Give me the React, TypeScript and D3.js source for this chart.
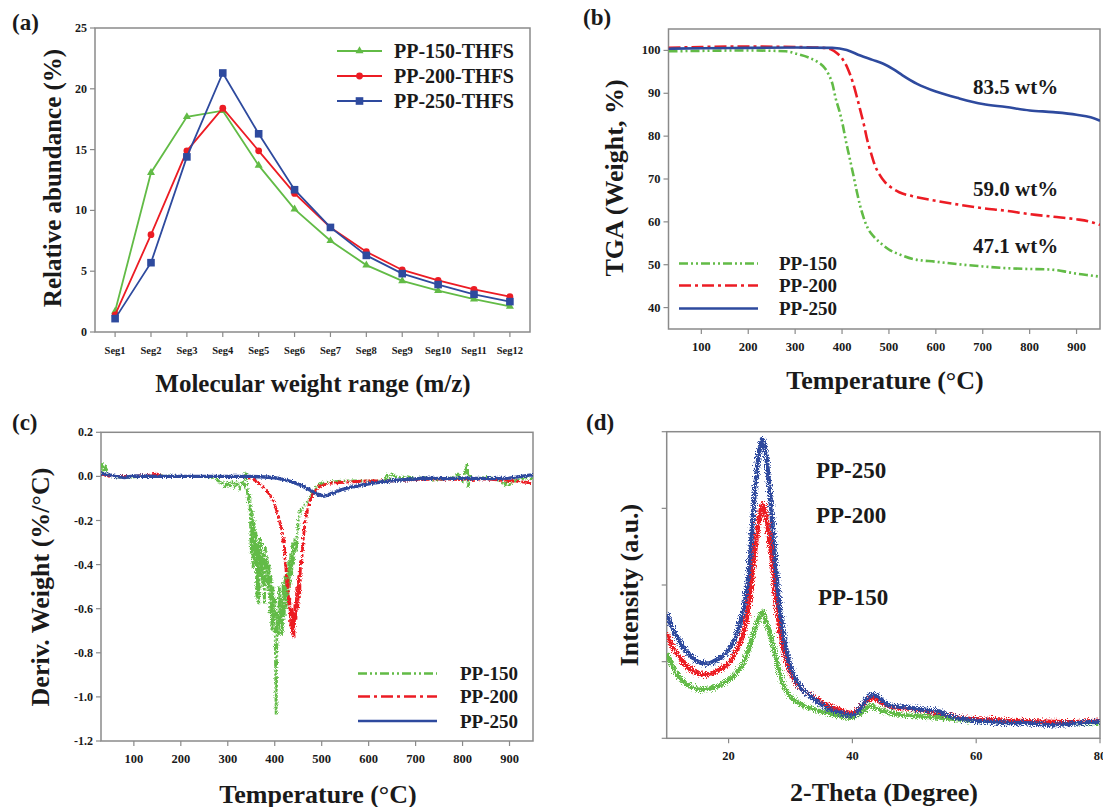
import React from 'react';
import * as d3 from 'd3';

const W = 1103;
const H = 807;
const FONT = '"Liberation Serif", "Times New Roman", serif';
const GREEN = '#62bb46';
const RED = '#ec1c24';
const BLUE = '#2e4a9e';
const FRAME = '#8a8a8a';
const INK = '#1a1a1a';

type Pt = [number, number];

// (a) relative abundance per molecular weight segment
const SEGMENTS = ['Seg1', 'Seg2', 'Seg3', 'Seg4', 'Seg5', 'Seg6', 'Seg7', 'Seg8', 'Seg9', 'Seg10', 'Seg11', 'Seg12'];
const ABUND_150 = [1.7, 13.1, 17.7, 18.2, 13.7, 10.1, 7.5, 5.5, 4.2, 3.4, 2.7, 2.1];
const ABUND_200 = [1.4, 8.0, 14.9, 18.4, 14.9, 11.4, 8.6, 6.6, 5.1, 4.25, 3.5, 2.9];
const ABUND_250 = [1.1, 5.7, 14.4, 21.3, 16.3, 11.7, 8.6, 6.3, 4.8, 3.9, 3.1, 2.5];
const ABUND_TICKS = [0, 5, 10, 15, 20, 25];

// (b) TGA, [temperature, weight %]
const TGA_150: Pt[] = [[30, 99.8], [100, 99.9], [200, 100.0], [280, 99.8], [303, 99.2], [330, 98.3], [348, 97.3], [360, 96.3], [371, 94.5], [380, 92], [386, 89], [394, 86], [401, 82.9], [408, 79], [416, 75], [424, 71], [431, 67.3], [438, 64], [446, 61], [455, 58.5], [469, 56.4], [485, 54.8], [499, 53.6], [525, 52.3], [552, 51.3], [600, 50.7], [649, 50.1], [700, 49.6], [750, 49.2], [800, 49.0], [840, 48.9], [860, 48.7], [880, 48.3], [900, 47.9], [930, 47.5], [950, 47.2]];
const TGA_200: Pt[] = [[30, 100.6], [100, 100.8], [200, 100.9], [300, 100.8], [360, 100.6], [375, 100.3], [390, 99.3], [401, 98], [412, 95.8], [424, 92.2], [432, 89], [439, 86], [447, 82.5], [454, 79], [462, 76], [469, 73.5], [480, 71], [492, 69.2], [505, 68], [522, 66.9], [550, 66], [600, 64.9], [650, 64], [700, 63.2], [750, 62.6], [800, 61.8], [850, 61.2], [900, 60.6], [930, 60.0], [950, 59.3]];
const TGA_250: Pt[] = [[30, 100.4], [100, 100.5], [200, 100.6], [300, 100.7], [379, 100.6], [410, 100.1], [439, 98.8], [465, 97.8], [488, 96.9], [510, 95.6], [529, 94.2], [560, 92.2], [600, 90.4], [650, 88.8], [700, 87.5], [750, 86.8], [800, 86.0], [850, 85.6], [900, 85.0], [930, 84.4], [950, 83.6]];
const TGA_TICKS = [40, 50, 60, 70, 80, 90, 100];
const TEMP_TICKS = [100, 200, 300, 400, 500, 600, 700, 800, 900];
const RESIDUES = ['83.5 wt%', '59.0 wt%', '47.1 wt%'];

// (c) DTG, [temperature, %/°C]
const DTG_150: Pt[] = [[30, 0.03], [33, 0.06], [36, 0.02], [40, 0.04], [45, 0.01], [55, 0.0], [80, -0.005], [120, 0.0], [160, 0.002], [200, 0.0], [240, 0.0], [270, -0.005], [280, -0.02], [285, -0.035], [290, -0.03], [295, -0.05], [300, -0.03], [305, -0.04], [310, -0.02], [315, -0.045], [320, -0.03], [325, -0.05], [330, -0.02], [335, -0.04], [338, 0.02], [341, -0.05], [344, -0.12], [347, -0.08], [350, -0.35], [352, -0.15], [354, -0.42], [356, -0.2], [358, -0.4], [360, -0.25], [362, -0.55], [364, -0.3], [366, -0.58], [368, -0.28], [370, -0.45], [372, -0.3], [374, -0.5], [376, -0.35], [378, -0.58], [380, -0.32], [382, -0.48], [384, -0.36], [386, -0.52], [388, -0.4], [390, -0.62], [392, -0.45], [394, -0.7], [396, -0.5], [398, -0.68], [400, -0.55], [402, -0.9], [403, -1.08], [404, -0.85], [406, -0.62], [408, -0.72], [410, -0.5], [412, -0.68], [414, -0.55], [416, -0.72], [418, -0.48], [420, -0.65], [422, -0.45], [424, -0.6], [426, -0.42], [428, -0.58], [430, -0.38], [432, -0.5], [434, -0.35], [436, -0.45], [438, -0.3], [440, -0.4], [443, -0.28], [446, -0.34], [450, -0.2], [454, -0.16], [460, -0.14], [468, -0.12], [475, -0.1], [482, -0.07], [489, -0.047], [500, -0.03], [520, -0.024], [560, -0.02], [600, -0.022], [620, -0.02], [635, -0.02], [640, 0.014], [645, -0.01], [650, 0.01], [660, -0.005], [680, 0.0], [700, -0.01], [720, -0.005], [740, -0.02], [760, -0.01], [780, -0.005], [790, 0.01], [800, -0.02], [805, 0.02], [810, 0.06], [812, -0.05], [815, 0.0], [830, -0.01], [850, -0.005], [870, -0.01], [880, -0.02], [890, -0.04], [895, -0.02], [900, -0.045], [910, -0.02], [930, -0.01], [950, -0.01]];
const DTG_200: Pt[] = [[30, 0.01], [50, 0.0], [100, 0.0], [150, 0.01], [160, 0.0], [250, 0.0], [330, 0.0], [345, -0.005], [355, -0.015], [365, -0.03], [375, -0.045], [385, -0.07], [395, -0.1], [400, -0.13], [405, -0.16], [410, -0.2], [415, -0.24], [418, -0.3], [420, -0.28], [422, -0.38], [424, -0.42], [426, -0.5], [428, -0.46], [430, -0.6], [432, -0.55], [434, -0.68], [436, -0.6], [438, -0.72], [440, -0.62], [441, -0.73], [443, -0.58], [445, -0.65], [447, -0.5], [449, -0.6], [451, -0.45], [453, -0.55], [455, -0.38], [457, -0.4], [460, -0.3], [465, -0.2], [470, -0.15], [475, -0.11], [482, -0.077], [490, -0.055], [500, -0.04], [520, -0.03], [560, -0.025], [600, -0.02], [650, -0.02], [700, -0.015], [750, -0.012], [800, -0.015], [850, -0.012], [900, -0.02], [950, -0.03]];
const DTG_250: Pt[] = [[30, 0.015], [40, 0.01], [60, 0.0], [80, -0.005], [100, 0.002], [150, 0.0], [200, 0.0], [300, 0.0], [350, 0.0], [380, -0.003], [400, -0.006], [420, -0.015], [435, -0.024], [450, -0.035], [465, -0.05], [475, -0.062], [487, -0.077], [496, -0.084], [505, -0.09], [512, -0.085], [525, -0.075], [539, -0.062], [560, -0.05], [580, -0.042], [609, -0.03], [640, -0.022], [667, -0.016], [700, -0.012], [716, -0.008], [760, -0.01], [800, -0.008], [858, -0.01], [900, -0.008], [943, 0.006], [950, 0.006]];
const DTG_TICKS = [0.2, 0.0, -0.2, -0.4, -0.6, -0.8, -1.0, -1.2];

// (d) XRD, [2-theta, intensity a.u.]
const XRD_150: Pt[] = [[10, 1.11], [11, 0.93], [12, 0.8], [13, 0.72], [14, 0.67], [15, 0.65], [16, 0.64], [17, 0.65], [18, 0.67], [19, 0.71], [20, 0.76], [21, 0.83], [22, 0.93], [23, 1.11], [24, 1.37], [25, 1.59], [25.5, 1.65], [26, 1.54], [27, 1.28], [28, 0.93], [29, 0.67], [30, 0.54], [32, 0.43], [34, 0.37], [36, 0.33], [38, 0.29], [40, 0.27], [42, 0.37], [43, 0.43], [44, 0.39], [46, 0.33], [50, 0.29], [54, 0.27], [58, 0.24], [60, 0.23], [65, 0.21], [70, 0.2], [80, 0.2]];
const XRD_200: Pt[] = [[10, 1.37], [11, 1.18], [12, 1.07], [13, 0.96], [14, 0.89], [15, 0.85], [16, 0.83], [17, 0.84], [18, 0.87], [19, 0.92], [20, 0.98], [21, 1.1], [22, 1.28], [23, 1.59], [24, 2.24], [24.5, 2.6], [25, 2.89], [25.5, 3.05], [26, 2.93], [26.5, 2.65], [27, 2.33], [28, 1.59], [29, 1.11], [30, 0.85], [32, 0.63], [34, 0.52], [36, 0.43], [38, 0.37], [40, 0.33], [42, 0.46], [43, 0.52], [44, 0.5], [46, 0.42], [50, 0.38], [54, 0.33], [58, 0.26], [60, 0.25], [65, 0.23], [70, 0.22], [75, 0.21], [80, 0.23]];
const XRD_250: Pt[] = [[10, 1.63], [11, 1.42], [12, 1.28], [13, 1.15], [14, 1.07], [15, 1.0], [16, 0.98], [17, 0.98], [18, 1.02], [19, 1.07], [20, 1.15], [21, 1.3], [22, 1.54], [23, 1.98], [23.5, 2.4], [24, 2.98], [24.5, 3.45], [25, 3.76], [25.5, 3.9], [26, 3.72], [26.5, 3.35], [27, 2.89], [27.5, 2.35], [28, 1.89], [28.5, 1.55], [29, 1.28], [30, 0.93], [31, 0.75], [32, 0.63], [34, 0.5], [36, 0.39], [38, 0.33], [40, 0.3], [41, 0.36], [42, 0.48], [43, 0.57], [44, 0.55], [45, 0.48], [46, 0.43], [48, 0.41], [50, 0.39], [52, 0.37], [54, 0.35], [56, 0.28], [58, 0.25], [60, 0.23], [65, 0.2], [70, 0.19], [72, 0.17], [75, 0.19], [80, 0.22]];
const THETA_TICKS = [20, 40, 60, 80];
const INTENSITY_TICKS = [0, 1, 2, 3, 4];

const SERIES = ['PP-150', 'PP-200', 'PP-250'];
const DASH = ['9,3,2,3,2,3', '12,4,3,4', 'none'];
const DASH_DENSE = ['7,2,2,2,2,2', '10,2,3,2', 'none'];
const COLORS = [GREEN, RED, BLUE];

function Txt(props: any) {
  return <text fontFamily={FONT} fontWeight="bold" fill={INK} {...props} />;
}

function Frame({ x, y }: { x: any; y: any }) {
  const [l, r] = x.range();
  const [b, t] = y.range();
  return <rect x={l} y={t} width={r - l} height={b - t} fill="none" stroke={FRAME} strokeWidth={1.5} />;
}

function XAxis({ x, y, ticks, size, fmt }: any) {
  const y0 = y.range()[0];
  return (
    <g>
      {ticks.map((t: any) => {
        const px = x(t);
        return (
          <g key={String(t)}>
            <line x1={px} x2={px} y1={y0} y2={y0 + 5} stroke={FRAME} strokeWidth={1.2} />
            <Txt x={px} y={y0 + 18} fontSize={size} textAnchor="middle" dominantBaseline="central">{fmt ? fmt(t) : t}</Txt>
          </g>
        );
      })}
    </g>
  );
}

function YAxis({ x, y, ticks, size, fmt, labels = true }: any) {
  const x0 = x.range()[0];
  return (
    <g>
      {ticks.map((t: number) => {
        const py = y(t);
        return (
          <g key={t}>
            <line x1={x0 - 5} x2={x0} y1={py} y2={py} stroke={FRAME} strokeWidth={1.2} />
            {labels && <Txt x={x0 - 8} y={py} fontSize={size} textAnchor="end" dominantBaseline="central">{fmt ? fmt(t) : t}</Txt>}
          </g>
        );
      })}
    </g>
  );
}

function YTitle({ cx, cy, text, size = 26 }: any) {
  return <Txt transform={`translate(${cx},${cy}) rotate(-90)`} fontSize={size} textAnchor="middle" dominantBaseline="central">{text}</Txt>;
}

export default function App() {
  // (a)
  const xA = d3.scalePoint<string>().domain(SEGMENTS).range([95, 530]).padding(0.56);
  const yA = d3.scaleLinear().domain([0, 25]).range([332, 28]);
  const lineA = d3.line<number>().x((_, i) => xA(SEGMENTS[i]) as number).y((d) => yA(d));
  const abund = [ABUND_150, ABUND_200, ABUND_250];
  const symbols = [d3.symbol(d3.symbolTriangle, 28), d3.symbol(d3.symbolCircle, 36), d3.symbol(d3.symbolSquare, 58)];

  // (b)
  const xB = d3.scaleLinear().domain([30, 950]).range([668.5, 1100]);
  const yB = d3.scaleLinear().domain([35, 105]).range([329, 29]);
  const lineB = d3.line<Pt>().x((d) => xB(d[0])).y((d) => yB(d[1])).curve(d3.curveMonotoneX);
  const tga = [TGA_150, TGA_200, TGA_250];

  // (c)
  const xC = d3.scaleLinear().domain([30, 950]).range([101, 533]);
  const yC = d3.scaleLinear().domain([-1.2, 0.2]).range([741, 432.3]);
  const lineC = d3.line<Pt>().x((d) => xC(d[0])).y((d) => yC(d[1]));
  const dtg = [DTG_150, DTG_200, DTG_250];

  // (d)
  const xD = d3.scaleLinear().domain([10, 80]).range([666.7, 1100]);
  const yD = d3.scaleLinear().domain([0, 4]).range([738.3, 431.7]);
  const lineD = d3.line<Pt>().x((d) => xD(d[0])).y((d) => yD(d[1])).curve(d3.curveCatmullRom);
  const xrd = [XRD_150, XRD_200, XRD_250];

  const clip = (id: string, x: any, y: any) => {
    const [l, r] = x.range();
    const [b, t] = y.range();
    return (
      <clipPath id={id}>
        <rect x={l} y={t} width={r - l} height={b - t} />
      </clipPath>
    );
  };

  return (
    <svg width={W} height={H} viewBox={`0 0 ${W} ${H}`} style={{ position: 'absolute', left: 0, top: 0, display: 'block', background: '#fff' }}>
      <defs>
        {clip('clipB', xB, yB)}
        {clip('clipC', xC, yC)}
        {clip('clipD', xD, yD)}
        <filter id="grainD" x="-5%" y="-10%" width="110%" height="120%">
          <feTurbulence type="fractalNoise" baseFrequency="0.9" numOctaves={2} seed={4} result="n" />
          <feDisplacementMap in="SourceGraphic" in2="n" scale={9} xChannelSelector="R" yChannelSelector="G" />
        </filter>
        <filter id="grainC" x="-5%" y="-10%" width="110%" height="120%">
          <feTurbulence type="fractalNoise" baseFrequency="0.8" numOctaves={2} seed={7} result="n" />
          <feDisplacementMap in="SourceGraphic" in2="n" scale={4} xChannelSelector="R" yChannelSelector="G" />
        </filter>
      </defs>

      {/* (a) */}
      <Txt x={12} y={22} fontSize={23} dominantBaseline="central">(a)</Txt>
      <Frame x={xA} y={yA} />
      <YAxis x={xA} y={yA} ticks={ABUND_TICKS} size={12} />
      <XAxis x={xA} y={yA} ticks={SEGMENTS} size={10.5} />
      {abund.map((vals, k) => (
        <g key={k}>
          <path d={lineA(vals) || ''} fill="none" stroke={COLORS[k]} strokeWidth={1.8} />
          {vals.map((v, i) => (
            <path key={i} d={symbols[k]() || ''} transform={`translate(${xA(SEGMENTS[i])},${yA(v)})`} fill={COLORS[k]} />
          ))}
        </g>
      ))}
      {SERIES.map((s, k) => {
        const ly = 51 + k * 25;
        return (
          <g key={s}>
            <line x1={337} x2={382} y1={ly} y2={ly} stroke={COLORS[k]} strokeWidth={1.8} />
            <path d={symbols[k]() || ''} transform={`translate(${359.5},${ly})`} fill={COLORS[k]} />
            <Txt x={394} y={ly} fontSize={20} dominantBaseline="central">{s}-THFS</Txt>
          </g>
        );
      })}
      <YTitle cx={52} cy={178} text="Relative abundance (%)" size={25} />
      <Txt x={313} y={383} fontSize={25} textAnchor="middle" dominantBaseline="central">Molecular weight range (m/z)</Txt>

      {/* (b) */}
      <Txt x={583} y={17} fontSize={23} dominantBaseline="central">(b)</Txt>
      <Frame x={xB} y={yB} />
      <YAxis x={xB} y={yB} ticks={TGA_TICKS} size={12.5} />
      <XAxis x={xB} y={yB} ticks={TEMP_TICKS} size={12.5} />
      <g clipPath="url(#clipB)">
        {tga.map((pts, k) => (
          <path key={k} d={lineB(pts) || ''} fill="none" stroke={COLORS[k]} strokeWidth={2.6} strokeDasharray={DASH[k]} />
        ))}
      </g>
      {RESIDUES.map((r, i) => (
        <Txt key={r} x={973} y={[87, 189, 246][i]} fontSize={21} dominantBaseline="central">{r}</Txt>
      ))}
      {SERIES.map((s, k) => {
        const ly = [263.5, 285.5, 308.5][k];
        return (
          <g key={s}>
            <line x1={679} x2={758} y1={ly} y2={ly} stroke={COLORS[k]} strokeWidth={2.6} strokeDasharray={DASH[k]} />
            <Txt x={779} y={ly} fontSize={19} dominantBaseline="central">{s}</Txt>
          </g>
        );
      })}
      <YTitle cx={614} cy={178} text="TGA (Weight, %)" />
      <Txt x={885} y={380} fontSize={26} textAnchor="middle" dominantBaseline="central">Temperature (°C)</Txt>

      {/* (c) */}
      <Txt x={12} y={422} fontSize={23} dominantBaseline="central">(c)</Txt>
      <Frame x={xC} y={yC} />
      <YAxis x={xC} y={yC} ticks={DTG_TICKS} size={12} fmt={(t: number) => d3.format('.1f')(t).replace('−', '-')} />
      <XAxis x={xC} y={yC} ticks={TEMP_TICKS} size={12.5} />
      <g clipPath="url(#clipC)">
        <g filter="url(#grainC)">
          {dtg.map((pts, k) => (
            <path key={k} d={lineC(pts) || ''} fill="none" stroke={COLORS[k]} strokeWidth={k === 2 ? 3.4 : 2.8} strokeDasharray={DASH_DENSE[k]} />
          ))}
        </g>
      </g>
      {SERIES.map((s, k) => {
        const ly = [673.5, 696.5, 721][k];
        return (
          <g key={s}>
            <line x1={358} x2={437} y1={ly} y2={ly} stroke={COLORS[k]} strokeWidth={2.6} strokeDasharray={DASH[k]} />
            <Txt x={460} y={ly} fontSize={19} dominantBaseline="central">{s}</Txt>
          </g>
        );
      })}
      <YTitle cx={40} cy={587} text="Deriv. Weight (%/°C)" />
      <Txt x={318} y={794} fontSize={26} textAnchor="middle" dominantBaseline="central">Temperature (°C)</Txt>

      {/* (d) */}
      <Txt x={586} y={422} fontSize={23} dominantBaseline="central">(d)</Txt>
      <Frame x={xD} y={yD} />
      <YAxis x={xD} y={yD} ticks={INTENSITY_TICKS} size={12} labels={false} />
      <XAxis x={xD} y={yD} ticks={THETA_TICKS} size={12.5} />
      <g clipPath="url(#clipD)">
        <g filter="url(#grainD)">
          {xrd.map((pts, k) => (
            <path key={k} d={lineD(pts) || ''} fill="none" stroke={COLORS[k]} strokeWidth={4.5} />
          ))}
        </g>
      </g>
      {SERIES.slice().reverse().map((s, i) => (
        <Txt key={s} x={i === 2 ? 818 : 816} y={[470, 515, 597][i]} fontSize={23} dominantBaseline="central">{s}</Txt>
      ))}
      <YTitle cx={629} cy={585} text="Intensity (a.u.)" />
      <Txt x={884} y={792} fontSize={26} textAnchor="middle" dominantBaseline="central">2-Theta (Degree)</Txt>
    </svg>
  );
}
